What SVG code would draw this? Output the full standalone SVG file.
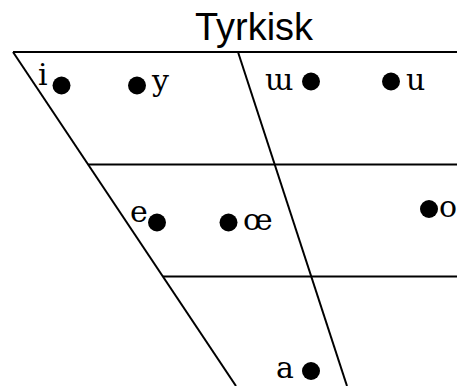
<svg xmlns="http://www.w3.org/2000/svg" width="457" height="386" viewBox="0 0 457 386">
  <style>
    .grid line { stroke: #000; stroke-width: 2; fill: none; }
    .dot { fill: #000; }
    .lbl { font-family: "DejaVu Serif", "Liberation Serif", serif; font-size: 30px; fill: #000; }
    .title { font-family: "Liberation Sans", "DejaVu Sans", sans-serif; font-size: 38px; fill: #000; }
  </style>
  <rect width="457" height="386" fill="#fff"/>
  <text class="title" x="195" y="40" textLength="118" lengthAdjust="spacingAndGlyphs">Tyrkisk</text>

  <!-- vowel trapezoid grid -->
  <g id="connectors" class="grid">
    <line x1="13" y1="52" x2="457" y2="52"/>
    <line x1="13" y1="52" x2="236" y2="386"/>
    <line x1="238" y1="52" x2="347" y2="386"/>
    <line x1="88" y1="164.5" x2="457" y2="164.5"/>
    <line x1="163" y1="276.5" x2="457" y2="276.5"/>
  </g>

  <g id="v-i"><circle class="dot" cx="61.5" cy="85.5" r="9"/><text class="lbl" x="38" y="85">i</text></g>
  <g id="v-y"><circle class="dot" cx="137" cy="85.5" r="9"/><text class="lbl" x="152" y="91">y</text></g>
  <g id="v-ɯ"><circle class="dot" cx="311" cy="81.5" r="9"/><text class="lbl" x="265" y="90">ɯ</text></g>
  <g id="v-u"><circle class="dot" cx="391" cy="81.5" r="9"/><text class="lbl" x="406" y="90">u</text></g>
  <g id="v-e"><circle class="dot" cx="157" cy="222.5" r="9"/><text class="lbl" x="130" y="222">e</text></g>
  <g id="v-oe"><circle class="dot" cx="228.5" cy="222.5" r="9"/><text class="lbl" x="243" y="230">œ</text></g>
  <g id="v-o"><circle class="dot" cx="429" cy="209" r="9"/><text class="lbl" x="439" y="217">o</text></g>
  <g id="v-a"><circle class="dot" cx="311" cy="371" r="9"/><text class="lbl" x="276" y="378">a</text></g>
</svg>
